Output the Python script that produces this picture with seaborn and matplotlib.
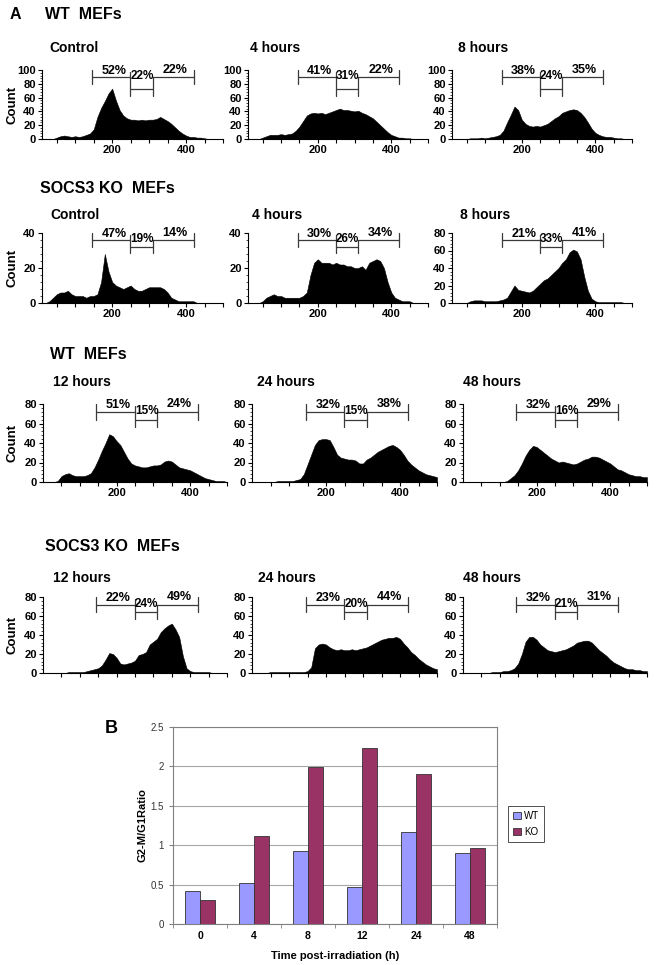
import pandas as pd
import seaborn as sns
import matplotlib.pyplot as plt
from matplotlib.ticker import AutoMinorLocator

sns.set_style('ticks')
plt.rcParams['font.family'] = ['Liberation Sans', 'DejaVu Sans']
plt.rcParams['text.color'] = 'black'
plt.rcParams['axes.labelcolor'] = 'black'
plt.rcParams['xtick.color'] = 'black'
plt.rcParams['ytick.color'] = 'black'
plt.rcParams['axes.edgecolor'] = 'black'

# flow cytometry channels (DNA content), one value every 10 channels
CHANNEL = list(range(20, 510, 10))

# counts
WT_CONTROL = [0, 0, 0, 2, 4, 5, 4, 3, 4, 3, 4, 6, 8, 14, 32, 45, 55, 66, 73, 56,
              42, 34, 30, 28, 28, 27, 28, 27, 28, 28, 29, 32, 29, 26, 22, 17, 12, 8, 5, 3,
              3, 2, 2, 1, 0, 0, 0, 0, 0]
WT_4H = [0, 0, 0, 2, 4, 6, 6, 6, 7, 6, 7, 8, 12, 18, 26, 34, 37, 38, 37, 38,
         36, 38, 40, 42, 44, 42, 42, 41, 40, 41, 38, 36, 33, 30, 25, 20, 15, 10, 6, 4,
         2, 2, 1, 1, 0, 0, 0, 0, 0]
WT_8H = [0, 0, 0, 0, 1, 1, 1, 2, 1, 2, 3, 4, 6, 12, 24, 35, 47, 42, 28, 22,
         19, 18, 19, 18, 20, 22, 26, 30, 33, 38, 40, 42, 43, 42, 38, 32, 24, 15, 9, 6,
         4, 3, 3, 2, 1, 1, 0, 0, 0]
KO_CONTROL = [0, 1, 3, 5, 6, 6, 7, 5, 4, 4, 4, 3, 4, 4, 5, 12, 28, 18, 12, 10,
              9, 8, 9, 10, 8, 7, 7, 8, 9, 9, 9, 9, 8, 6, 3, 2, 1, 1, 1, 1,
              1, 0, 0, 0, 0, 0, 0, 0, 0]
KO_4H = [0, 0, 0, 1, 3, 4, 5, 4, 4, 3, 3, 3, 3, 3, 4, 6, 16, 23, 25, 23,
         23, 23, 22, 23, 22, 22, 21, 21, 20, 20, 21, 19, 23, 24, 25, 24, 20, 12, 6, 3,
         2, 1, 1, 1, 0, 0, 0, 0, 0]
KO_8H = [0, 0, 0, 0, 2, 3, 3, 3, 2, 2, 2, 2, 3, 4, 6, 13, 20, 15, 14, 13,
         12, 14, 18, 22, 26, 28, 32, 36, 40, 46, 50, 58, 61, 59, 50, 30, 14, 5, 2, 1,
         1, 1, 1, 1, 1, 1, 0, 0, 0]
WT_12H = [0, 0, 1, 6, 8, 9, 7, 6, 6, 6, 7, 9, 15, 23, 32, 40, 49, 47, 42, 38,
          31, 24, 19, 17, 16, 15, 15, 16, 17, 17, 18, 21, 22, 21, 18, 15, 14, 13, 12, 10,
          8, 6, 4, 3, 2, 1, 1, 1, 0]
WT_24H = [0, 0, 0, 0, 0, 1, 1, 1, 1, 1, 2, 3, 8, 18, 28, 38, 43, 44, 44, 43,
          36, 28, 25, 24, 23, 23, 22, 19, 19, 23, 25, 28, 31, 33, 35, 37, 38, 36, 33, 28,
          22, 18, 15, 12, 10, 8, 7, 6, 5]
WT_48H = [0, 0, 0, 0, 0, 0, 0, 0, 0, 0, 1, 4, 7, 12, 19, 27, 33, 37, 36, 33,
          30, 27, 24, 22, 20, 21, 20, 19, 18, 19, 21, 23, 24, 26, 26, 25, 23, 21, 19, 16,
          13, 12, 10, 8, 7, 6, 6, 5, 5]
KO_12H = [0, 0, 0, 0, 0, 1, 1, 1, 1, 1, 2, 3, 4, 5, 8, 14, 21, 20, 16, 10,
          9, 10, 11, 13, 19, 20, 22, 30, 33, 36, 43, 47, 50, 52, 46, 38, 18, 5, 2, 1,
          1, 1, 1, 1, 0, 0, 0, 0, 0]
KO_24H = [0, 0, 0, 1, 1, 1, 1, 1, 1, 1, 1, 1, 1, 2, 6, 26, 30, 31, 30, 27,
          25, 24, 25, 24, 24, 25, 24, 25, 26, 27, 29, 31, 33, 35, 36, 37, 37, 38, 36, 31,
          27, 22, 19, 15, 12, 9, 7, 5, 4]
KO_48H = [0, 0, 0, 0, 0, 0, 1, 1, 1, 2, 2, 3, 5, 10, 20, 33, 38, 38, 35, 30,
          27, 24, 23, 22, 23, 24, 25, 27, 29, 32, 33, 34, 34, 32, 28, 24, 21, 18, 14, 11,
          9, 7, 5, 4, 4, 3, 3, 2, 2]

# gate limits and percentages (G1 / S / G2-M)
GATES = [145, 249, 310, 422]
PCT_WT_EARLY = [(52, 22, 22), (41, 31, 22), (38, 24, 35)]
PCT_KO_EARLY = [(47, 19, 14), (30, 26, 34), (21, 33, 41)]
PCT_WT_LATE = [(51, 15, 24), (32, 15, 38), (32, 16, 29)]
PCT_KO_LATE = [(22, 24, 49), (23, 20, 44), (32, 21, 31)]

TITLES_EARLY = ['Control', '4 hours', '8 hours']
TITLES_LATE = ['12 hours', '24 hours', '48 hours']

# panel B
TIMES = ['0', '4', '8', '12', '24', '48']
WT_RATIO = [0.42, 0.52, 0.93, 0.47, 1.17, 0.90]
KO_RATIO = [0.30, 1.12, 1.99, 2.23, 1.90, 0.97]

W, H = 658, 965
fig = plt.figure(figsize=(W / 100, H / 100), dpi=100)


def px_axes(left, top, right, bottom):
    return fig.add_axes([left / W, 1 - bottom / H, (right - left) / W, (bottom - top) / H])


def px_text(x, y, s, **kw):
    fig.text(x / W, 1 - y / H, s, **kw)


def draw_hist(ax, counts, pcts, ymax, xlim, mid_h, show_xlabels=True):
    edges = [c - 5 for c in CHANNEL] + [CHANNEL[-1] + 5]
    sns.histplot(x=CHANNEL, weights=counts, bins=edges, element='poly', fill=True,
                 color='black', alpha=1, linewidth=0.4, ax=ax)
    ax.set_xlim(*xlim)
    ax.set_ylim(0, ymax)
    ax.set_ylabel('')
    ax.set_xlabel('')
    sns.despine(ax=ax)
    for sp in ['left', 'bottom']:
        ax.spines[sp].set_linewidth(0.8)
    xt = list(range(50, 501, 50))
    ax.set_xticks(xt)
    if show_xlabels:
        ax.set_xticklabels([str(t) if t in (200, 400) else '' for t in xt])
    else:
        ax.set_xticklabels([])
    ax.set_yticks(list(range(0, ymax + 1, 20)))
    ax.yaxis.set_minor_locator(AutoMinorLocator(5))
    ax.tick_params(axis='both', which='major', length=3, width=0.8, labelsize=8, pad=1.5)
    ax.tick_params(axis='y', which='minor', length=1.5, width=0.5)
    for lab in ax.get_xticklabels() + ax.get_yticklabels():
        lab.set_fontweight('bold')

    # gate brackets
    tr = ax.get_xaxis_transform()
    g0, g1, g2, g3 = GATES
    col = '#3a3a3a'
    ax.plot([g0, g1], [0.9, 0.9], color=col, lw=0.9, transform=tr, clip_on=False)
    ax.plot([g2, g3], [0.9, 0.9], color=col, lw=0.9, transform=tr, clip_on=False)
    ax.plot([g1, g2], [mid_h, mid_h], color=col, lw=0.9, transform=tr, clip_on=False)
    ax.plot([g0, g0], [0.8, 1.0], color=col, lw=0.9, transform=tr, clip_on=False)
    ax.plot([g3, g3], [0.8, 1.0], color=col, lw=0.9, transform=tr, clip_on=False)
    ax.plot([g1, g1], [mid_h - 0.09, 0.97], color=col, lw=0.9, transform=tr, clip_on=False)
    ax.plot([g2, g2], [mid_h - 0.09, 0.9], color=col, lw=0.9, transform=tr, clip_on=False)
    left, mid, right = pcts
    kw = dict(transform=tr, ha='center', va='bottom', fontweight='bold')
    ax.text((g0 + g1) / 2 + 8, 0.905, f'{left}%', fontsize=9, **kw)
    ax.text((g1 + g2) / 2 + 2, 0.83, f'{mid}%', fontsize=8.5, **kw)
    ax.text((g2 + g3) / 2 + 5, 0.92, f'{right}%', fontsize=9, **kw)


# ---- Panel A layout ----
early_cols = [(42, 223), (248, 428), (452, 632)]
late_cols = [(43, 227), (252, 437), (463, 647)]

rows = [
    dict(data=[WT_CONTROL, WT_4H, WT_8H], pcts=PCT_WT_EARLY, ymax=[100, 100, 100],
         top=70, bottom=139, cols=early_cols, xlim=(10, 492), mid_h=0.72,
         titles=TITLES_EARLY, title_y=52, title_x=[49, 250, 458], xlabels=True),
    dict(data=[KO_CONTROL, KO_4H, KO_8H], pcts=PCT_KO_EARLY, ymax=[40, 40, 80],
         top=233, bottom=303, cols=early_cols, xlim=(10, 492), mid_h=0.80,
         titles=TITLES_EARLY, title_y=219, title_x=[50, 252, 460], xlabels=True),
    dict(data=[WT_12H, WT_24H, WT_48H], pcts=PCT_WT_LATE, ymax=[80, 80, 80],
         top=404, bottom=482, cols=late_cols, xlim=(0, 500), mid_h=0.80,
         titles=TITLES_LATE, title_y=386, title_x=[53, 257, 463], xlabels=True),
    dict(data=[KO_12H, KO_24H, KO_48H], pcts=PCT_KO_LATE, ymax=[80, 80, 80],
         top=597, bottom=673, cols=late_cols, xlim=(0, 500), mid_h=0.80,
         titles=TITLES_LATE, title_y=582, title_x=[53, 258, 463], xlabels=False),
]

for row in rows:
    for i, (l, r) in enumerate(row['cols']):
        ax = px_axes(l, row['top'], r, row['bottom'])
        draw_hist(ax, row['data'][i], row['pcts'][i], row['ymax'][i], row['xlim'],
                  row['mid_h'], row['xlabels'])
        px_text(row['title_x'][i], row['title_y'], row['titles'][i],
                fontsize=10, fontweight='bold', va='baseline', ha='left')
    px_text(13, (row['top'] + row['bottom']) / 2, 'Count', rotation=90,
            fontsize=9.5, fontweight='bold', va='center', ha='center')

head = dict(fontsize=11.5, fontweight='bold', va='baseline', ha='left')
px_text(10, 19, 'A', **head)
px_text(45, 19, 'WT  MEFs', **head)
px_text(40, 193, 'SOCS3 KO  MEFs', **head)
px_text(50, 359, 'WT  MEFs', **head)
px_text(45, 551, 'SOCS3 KO  MEFs', **head)

# ---- Panel B ----
ratio_df = pd.DataFrame({
    'time': TIMES + TIMES,
    'ratio': WT_RATIO + KO_RATIO,
    'genotype': ['WT'] * len(TIMES) + ['KO'] * len(TIMES),
})
axb = px_axes(173, 727, 497, 924)
sns.barplot(data=ratio_df, x='time', y='ratio', hue='genotype', order=TIMES,
            hue_order=['WT', 'KO'], palette={'WT': '#9999FF', 'KO': '#993366'},
            width=0.57, saturation=1, edgecolor='#333333', linewidth=0.6,
            errorbar=None, ax=axb)
axb.set_ylim(0, 2.5)
axb.set_xlim(-0.5, 5.5)
axb.set_yticks([0, 0.5, 1, 1.5, 2, 2.5])
axb.set_yticklabels(['0', '0.5', '1', '1.5', '2', '2.5'])
axb.yaxis.grid(True, color='#a6a6a6', lw=0.8)
axb.set_axisbelow(True)
for sp in axb.spines.values():
    sp.set_color('#808080')
    sp.set_linewidth(0.8)
axb.set_xticks([x - 0.5 for x in range(7)], minor=True)
axb.tick_params(axis='x', which='major', length=0, labelsize=7.5, pad=5)
axb.tick_params(axis='x', which='minor', length=3, color='#808080')
axb.tick_params(axis='y', which='major', length=3, color='#808080', labelsize=7,
                labelcolor='#333333')
for lab in axb.get_xticklabels():
    lab.set_fontweight('bold')
axb.set_xlabel('Time post-irradiation (h)', fontsize=8, fontweight='bold', labelpad=7)
axb.set_ylabel('')
px_text(143, 825, 'G2-M/G1Ratio', rotation=90, fontsize=8, fontweight='bold',
        va='center', ha='center')
handles, labels = axb.get_legend_handles_labels()
leg = axb.legend(handles, labels, loc='center left', bbox_to_anchor=(503 / W, 1 - 824 / H),
                 bbox_transform=fig.transFigure, frameon=True, fancybox=False,
                 edgecolor='black', fontsize=7, handlelength=0.8, handleheight=0.8,
                 borderpad=0.5, labelspacing=0.6, handletextpad=0.4)
leg.get_frame().set_linewidth(0.6)
px_text(105, 733, 'B', fontsize=13, fontweight='bold', va='baseline', ha='left')

plt.savefig('out.png', dpi=100)
